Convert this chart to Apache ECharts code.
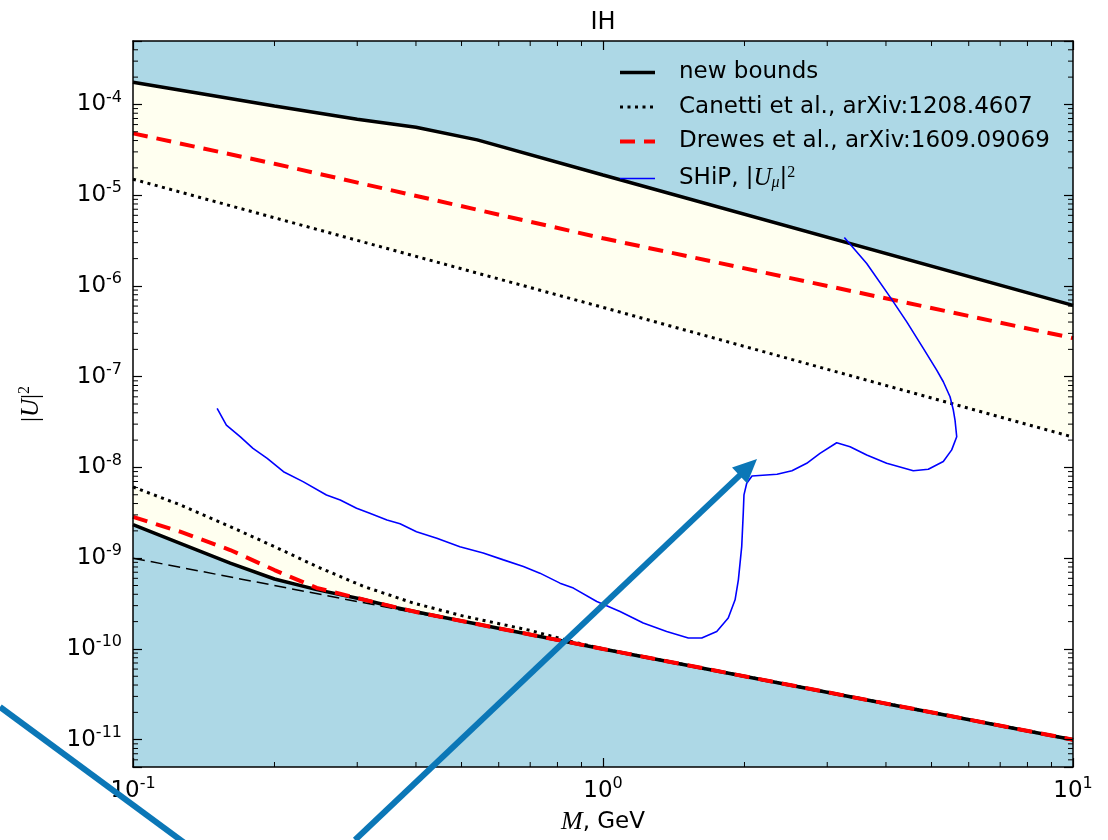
<!DOCTYPE html>
<html>
<head>
<meta charset="utf-8">
<title>IH</title>
<script src="https://cdn.jsdelivr.net/npm/echarts@6/dist/echarts.min.js"></script>
<style>
    html, body { margin: 0; padding: 0; background: #fff; }
    #chart { width: 1108px; height: 840px; }
</style>
</head>
<body>
<div id="chart"></div>
<script>
// 数据：横轴 M (GeV)，纵轴 |U|^2

// new bounds（上下两条）
const upperBoundM = [0.1, 0.139, 0.2, 0.3, 0.4, 0.54, 1, 10];
const upperBoundU = [1.76e-4, 1.32e-4, 9.6e-5, 6.85e-5, 5.6e-5, 4.07e-5, 1.67e-5, 6.1e-7];
const lowerBoundM = [0.1, 0.126, 0.161, 0.2, 0.246, 0.309, 0.364, 0.429, 1, 10];
const lowerBoundU = [2.35e-9, 1.46e-9, 8.8e-10, 5.9e-10, 4.5e-10, 3.5e-10, 2.84e-10, 2.38e-10, 1.0e-10, 1.0e-11];

// Canetti et al.
const canettiUpM = [0.1, 1, 10];
const canettiUpU = [1.5e-5, 5.8e-7, 2.16e-8];
const canettiLowM = [0.1, 0.126, 0.161, 0.2, 0.246, 0.309, 0.395, 0.505, 0.7, 0.85, 1, 10];
const canettiLowU = [6.1e-9, 3.87e-9, 2.23e-9, 1.34e-9, 8.1e-10, 4.9e-10, 3.2e-10, 2.3e-10, 1.6e-10, 1.22e-10, 1.0e-10, 1.0e-11];

// Drewes et al.
const drewesUpM = [0.1, 0.2, 1, 10];
const drewesUpU = [4.8e-5, 2.22e-5, 3.35e-6, 2.66e-7];
const drewesLowM = [0.1, 0.126, 0.161, 0.2, 0.246, 0.309, 0.4, 1, 10];
const drewesLowU = [2.85e-9, 1.96e-9, 1.23e-9, 7.4e-10, 4.7e-10, 3.5e-10, 2.55e-10, 1.0e-10, 1.0e-11];

// 细虚线
const seesawM = [0.1, 0.45];
const seesawU = [1.0e-9, 2.22e-10];

// SHiP, |U_mu|^2
const shipM = [0.151, 0.158, 0.169, 0.180, 0.193, 0.209, 0.230, 0.258, 0.276, 0.299,
    0.319, 0.347, 0.370, 0.401, 0.443, 0.496, 0.556, 0.614, 0.677, 0.734,
    0.810, 0.865, 0.970, 1.087, 1.218, 1.366, 1.519, 1.622, 1.746, 1.847,
    1.910, 1.941, 1.973, 1.988, 1.995, 2.022, 2.075, 2.346, 2.524, 2.713,
    2.895, 3.142, 3.355, 3.640, 4.014, 4.573, 4.922, 5.297, 5.520, 5.657,
    5.610, 5.564, 5.475, 5.297, 5.129, 4.803, 4.429, 4.080, 3.640, 3.262];
const shipU = [4.48e-8, 2.93e-8, 2.18e-8, 1.62e-8, 1.26e-8, 8.98e-9, 6.97e-9, 4.97e-9, 4.38e-9, 3.55e-9,
    3.13e-9, 2.64e-9, 2.39e-9, 1.96e-9, 1.66e-9, 1.34e-9, 1.14e-9, 9.58e-10, 8.09e-10, 6.84e-10,
    5.31e-10, 4.68e-10, 3.33e-10, 2.58e-10, 1.93e-10, 1.56e-10, 1.32e-10, 1.32e-10, 1.56e-10, 2.19e-10,
    3.48e-10, 5.77e-10, 1.34e-9, 3.13e-9, 4.98e-9, 6.69e-9, 8.05e-9, 8.40e-9, 9.20e-9, 1.11e-8,
    1.43e-8, 1.87e-8, 1.69e-8, 1.37e-8, 1.11e-8, 9.21e-9, 9.54e-9, 1.16e-8, 1.56e-8, 2.18e-8,
    3.33e-8, 4.29e-8, 6.01e-8, 8.79e-8, 1.18e-7, 2.05e-7, 4.02e-7, 7.57e-7, 1.77e-6, 3.41e-6];

const legendNames = ['new bounds', 'Canetti et al., arXiv:1208.4607', 'Drewes et al., arXiv:1609.09069', 'SHiP'];

const X_MIN = 0.1, X_MAX = 10;
const Y_MIN = 5e-12, Y_MAX = 5e-4;

const SANS = 'DejaVu Sans';
const SERIF = 'Liberation Serif';
const BLUE_BG = '#add8e6';
const IVORY = '#fffff0';

function zip(xs, ys) {
    return xs.map((x, i) => [x, ys[i]]);
}

// 次刻度 (2..9 × 10^n)
const minorTicks = [];
for (let d = -1; d <= 0; d++) {
    for (let k = 2; k <= 9; k++) minorTicks.push([k * Math.pow(10, d), 1e-8, 0]);
}
for (let d = -12; d <= -4; d++) {
    for (let k = 2; k <= 9; k++) {
        const v = k * Math.pow(10, d);
        if (v > Y_MIN && v < Y_MAX) minorTicks.push([1, v, 1]);
    }
}

// 10 的幂标签
function powLabel(v) {
    const e = Math.log10(v);
    const r = Math.round(e);
    if (Math.abs(e - r) > 1e-6) return '';
    return '{b|10}{s|' + r + '}';
}

const labelRich = {
    b: { fontFamily: SANS, fontSize: 23, color: '#000' },
    s: { fontFamily: SANS, fontSize: 16, color: '#000', padding: [0, 0, 14, 0] }
};

function logAxis(pos, min, max, showLabel) {
    const isX = pos === 'bottom' || pos === 'top';
    return {
        type: 'log',
        logBase: 10,
        position: pos,
        min: min,
        max: max,
        z: 10,
        axisLine: { show: true, onZero: false, lineStyle: { color: '#000', width: 1.5 } },
        axisTick: { show: true, inside: true, length: 9, lineStyle: { color: '#000', width: 1.2 } },
        minorTick: { show: false },
        splitLine: { show: false },
        axisLabel: {
            show: showLabel,
            margin: isX ? 9 : 11,
            formatter: powLabel,
            rich: labelRich,
            showMinLabel: true,
            showMaxLabel: true
        }
    };
}

function fillSeries(data, color) {
    return {
        type: 'line',
        data: data,
        symbol: 'none',
        silent: true,
        z: 1,
        lineStyle: { width: 0, opacity: 0 },
        areaStyle: { color: color, opacity: 1, origin: 'start' }
    };
}

function lineSeries(name, data, color, width, dash, z) {
    return {
        name: name,
        type: 'line',
        data: data,
        symbol: 'none',
        silent: true,
        z: z || 3,
        itemStyle: { color: color },
        lineStyle: { color: color, width: width, type: dash || 'solid', cap: 'butt' }
    };
}

const chart = echarts.init(document.getElementById('chart'));

// 标注箭头（像素坐标）
const arrowColor = '#0b77b7';
const tip = [757, 459];
const tail = [355, 840];
const len = Math.hypot(tip[0] - tail[0], tip[1] - tail[1]);
const ux = (tip[0] - tail[0]) / len, uy = (tip[1] - tail[1]) / len;
const headLen = 24, headHalf = 11;
const base = [tip[0] - headLen * ux, tip[1] - headLen * uy];

chart.setOption({
    animation: false,
    backgroundColor: '#fff',
    grid: {
        left: 133, right: 35, top: 41, bottom: 72,
        show: true, backgroundColor: BLUE_BG, borderWidth: 0
    },
    legend: {
        orient: 'vertical',
        left: 618,
        top: 61,
        padding: 0,
        itemWidth: 35,
        itemHeight: 14,
        itemGap: 11.5,
        selectedMode: false,
        data: legendNames,
        lineStyle: { width: 'inherit' },
        itemStyle: { opacity: 0 },
        textStyle: {
            fontFamily: SANS, fontSize: 23, color: '#000', padding: [0, 0, 0, 19],
            rich: {
                n: { fontFamily: SANS, fontSize: 23, color: '#000' },
                p: { fontFamily: SANS, fontSize: 23, color: '#000' },
                m: { fontFamily: SERIF, fontStyle: 'italic', fontSize: 25, color: '#000' },
                sub: { fontFamily: SERIF, fontStyle: 'italic', fontSize: 16, color: '#000', padding: [8, 0, 0, 0] },
                sup: { fontFamily: SERIF, fontSize: 16, color: '#000', padding: [0, 0, 12, 0] }
            }
        },
        formatter: function (name) {
            if (name === 'SHiP') return '{n|SHiP, }{p||}{m|U}{sub|μ}{p||}{sup|2}';
            return name;
        }
    },
    xAxis: [
        Object.assign(logAxis('bottom', X_MIN, X_MAX, true), {
            name: '{i|M}{n|, GeV}',
            nameLocation: 'middle',
            nameGap: 42,
            nameTextStyle: {
                rich: {
                    i: { fontFamily: SERIF, fontStyle: 'italic', fontSize: 26, color: '#000' },
                    n: { fontFamily: SANS, fontSize: 23, color: '#000' }
                }
            }
        }),
        logAxis('top', X_MIN, X_MAX, false)
    ],
    yAxis: [
        Object.assign(logAxis('left', Y_MIN, Y_MAX, true), {
            name: '{p||}{u|U}{p||}{s|2}',
            nameLocation: 'middle',
            nameGap: 88,
            nameRotate: 90,
            nameTextStyle: {
                rich: {
                    p: { fontFamily: SERIF, fontSize: 25, color: '#000' },
                    u: { fontFamily: SERIF, fontStyle: 'italic', fontSize: 25, color: '#000' },
                    s: { fontFamily: SERIF, fontSize: 16, color: '#000', padding: [0, 0, 12, 0] }
                }
            }
        }),
        logAxis('right', Y_MIN, Y_MAX, false)
    ],
    series: [
        // 填充层
        fillSeries(zip(upperBoundM, upperBoundU), IVORY),
        fillSeries(zip(canettiUpM, canettiUpU), '#ffffff'),
        fillSeries(zip(canettiLowM, canettiLowU), IVORY),
        fillSeries(zip(lowerBoundM, lowerBoundU), BLUE_BG),
        // 线条
        lineSeries('seesaw', zip(seesawM, seesawU), '#000', 1.5, [12, 6]),
        lineSeries(legendNames[1], zip(canettiUpM, canettiUpU), '#000', 3, [3, 4.5]),
        lineSeries(legendNames[1], zip(canettiLowM, canettiLowU), '#000', 3, [3, 4.5]),
        lineSeries(legendNames[0], zip(upperBoundM, upperBoundU), '#000', 3.5),
        lineSeries(legendNames[0], zip(lowerBoundM, lowerBoundU), '#000', 3.5),
        lineSeries(legendNames[2], zip(drewesUpM, drewesUpU), '#ff0000', 4, [15, 9]),
        lineSeries(legendNames[2], zip(drewesLowM, drewesLowU), '#ff0000', 4, [15, 9]),
        lineSeries(legendNames[3], zip(shipM, shipU), '#0000ff', 1.6, 'solid', 4),
        // 次刻度
        {
            type: 'custom',
            data: minorTicks,
            silent: true,
            z: 11,
            clip: false,
            encode: { x: 0, y: 1 },
            renderItem: function (params, api) {
                const cs = params.coordSys;
                const style = { stroke: '#000', lineWidth: 1 };
                const pt = api.coord([api.value(0), api.value(1)]);
                if (api.value(2) === 0) {
                    const x = pt[0];
                    return {
                        type: 'group',
                        children: [
                            { type: 'line', shape: { x1: x, y1: cs.y + cs.height, x2: x, y2: cs.y + cs.height - 5 }, style: style },
                            { type: 'line', shape: { x1: x, y1: cs.y, x2: x, y2: cs.y + 5 }, style: style }
                        ]
                    };
                }
                const y = pt[1];
                return {
                    type: 'group',
                    children: [
                        { type: 'line', shape: { x1: cs.x, y1: y, x2: cs.x + 5, y2: y }, style: style },
                        { type: 'line', shape: { x1: cs.x + cs.width, y1: y, x2: cs.x + cs.width - 5, y2: y }, style: style }
                    ]
                };
            }
        }
    ],
    graphic: [
        {
            type: 'text', x: 603, y: 23, z: 20,
            style: { text: 'IH', fill: '#000', font: '24px "DejaVu Sans"', align: 'center', verticalAlign: 'middle' }
        },
        {
            type: 'line', z: 30, silent: true,
            shape: { x1: 0, y1: 707, x2: 190, y2: 847 },
            style: { stroke: arrowColor, lineWidth: 6 }
        },
        {
            type: 'line', z: 30, silent: true,
            shape: { x1: tail[0], y1: tail[1], x2: base[0] + 2 * ux, y2: base[1] + 2 * uy },
            style: { stroke: arrowColor, lineWidth: 6 }
        },
        {
            type: 'polygon', z: 30, silent: true,
            shape: {
                points: [
                    tip,
                    [base[0] - headHalf * uy, base[1] + headHalf * ux],
                    [base[0] + headHalf * uy, base[1] - headHalf * ux]
                ]
            },
            style: { fill: arrowColor }
        }
    ]
});
</script>
</body>
</html>
